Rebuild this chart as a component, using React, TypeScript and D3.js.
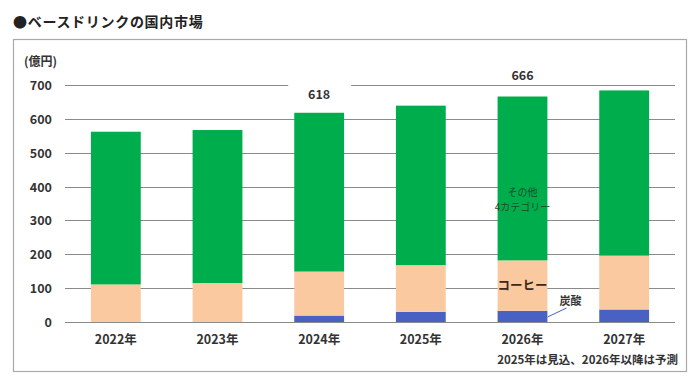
import React, { useEffect, useRef } from 'react';
import * as d3 from 'd3';

const years = ['2022年', '2023年', '2024年', '2025年', '2026年', '2027年'];
const carbonated = [0, 0, 19, 30, 33, 37];
const coffee = [111, 115, 130, 138, 149, 159];
const others = [451, 452, 469, 471, 484, 488];
const yTicks = [0, 100, 200, 300, 400, 500, 600, 700];
const totalLabels = [{ year: '2024年', text: '618' }, { year: '2026年', text: '666' }];

const FONT = '"Noto Sans CJK JP", "DejaVu Sans", sans-serif';

const App = () => {
    const svgRef = useRef(null);

    useEffect(() => {
        if (!svgRef.current) return;
        const root = d3.select(svgRef.current);
        root.selectAll('*').remove();

        const W = 700, H = 385;
        const plot = { left: 65, right: 675, top: 85, bottom: 322 };

        root.append('rect').attr('width', W).attr('height', H).attr('fill', '#fff');

        // title
        root.append('text')
            .attr('x', 13).attr('y', 27)
            .style('font-family', FONT).style('font-size', '14px').style('font-weight', 600)
            .style('letter-spacing', '0.7px')
            .style('fill', '#222')
            .text('●ベースドリンクの国内市場');

        // frame
        root.append('rect')
            .attr('x', 13.5).attr('y', 39.5).attr('width', 673).attr('height', 332)
            .attr('fill', 'none').attr('stroke', '#a9a9a9').attr('stroke-width', 1.2);

        const x = d3.scaleBand()
            .domain(years)
            .range([plot.left, plot.right])
            .paddingInner(0.51).paddingOuter(0.255);

        const y = d3.scaleLinear().domain([0, 700]).range([plot.bottom, plot.top]);

        // gridlines
        root.append('g').selectAll('line').data(yTicks).enter().append('line')
            .attr('x1', plot.left).attr('x2', plot.right)
            .attr('y1', d => Math.round(y(d)) + 0.5).attr('y2', d => Math.round(y(d)) + 0.5)
            .attr('stroke', '#8a8a8a').attr('stroke-width', 1.2);

        root.append('g').selectAll('text').data(yTicks).enter().append('text')
            .attr('x', 52).attr('y', d => y(d) + 5)
            .attr('text-anchor', 'end')
            .style('font-family', FONT).style('font-size', '12.5px').style('font-weight', 600)
            .style('fill', '#333')
            .text(d => d);

        root.append('text')
            .attr('x', 24).attr('y', 66)
            .style('font-family', FONT).style('font-size', '12px').style('font-weight', 600)
            .style('fill', '#333')
            .text('(億円)');

        // stacked bars
        const rows = years.map((yr, i) => ({ year: yr, carbonated: carbonated[i], coffee: coffee[i], others: others[i] }));
        const keys = ['carbonated', 'coffee', 'others'];
        const colors = { carbonated: '#4a61c4', coffee: '#fbc9a0', others: '#00ad4d' };
        const series = d3.stack().keys(keys)(rows);

        root.append('g').selectAll('g').data(series).enter().append('g')
            .attr('fill', d => colors[d.key])
            .selectAll('rect').data(d => d).enter().append('rect')
            .attr('x', d => x(d.data.year))
            .attr('width', x.bandwidth())
            .attr('y', d => y(d[1]))
            .attr('height', d => y(d[0]) - y(d[1]));

        // total labels with white boxes
        totalLabels.forEach((t, i) => {
            const cx = x(t.year) + x.bandwidth() / 2;
            const ty = i === 0 ? 99 : 80;
            root.append('rect')
                .attr('x', cx - 31).attr('y', ty - 16).attr('width', 63).attr('height', 20)
                .attr('fill', '#fff');
            root.append('text')
                .attr('x', cx).attr('y', ty)
                .attr('text-anchor', 'middle')
                .style('font-family', FONT).style('font-size', '12.5px').style('font-weight', 600)
                .style('fill', '#333')
                .text(t.text);
        });

        // x labels
        root.append('g').selectAll('text').data(years).enter().append('text')
            .attr('x', d => x(d) + x.bandwidth() / 2).attr('y', 344)
            .attr('text-anchor', 'middle')
            .style('font-family', FONT).style('font-size', '12.5px').style('font-weight', 600)
            .style('fill', '#333')
            .text(d => d);

        // segment labels on 2026
        const c26 = x('2026年') + x.bandwidth() / 2;
        root.append('text')
            .attr('x', c26).attr('y', 196).attr('text-anchor', 'middle')
            .style('font-family', FONT).style('font-size', '10px').style('fill', '#1a4d2a')
            .text('その他');
        root.append('text')
            .attr('x', c26).attr('y', 211).attr('text-anchor', 'middle')
            .style('font-family', FONT).style('font-size', '10px').style('fill', '#1a4d2a')
            .text('4カテゴリー');
        root.append('text')
            .attr('x', c26).attr('y', 290).attr('text-anchor', 'middle')
            .style('font-family', FONT).style('font-size', '12.5px').style('font-weight', 'bold')
            .style('fill', '#3a2a1a')
            .text('コーヒー');
        root.append('line')
            .attr('x1', c26 + 25).attr('y1', 317).attr('x2', c26 + 44).attr('y2', 308)
            .attr('stroke', '#4a61c4').attr('stroke-width', 1);
        root.append('text')
            .attr('x', c26 + 48).attr('y', 305).attr('text-anchor', 'middle')
            .style('font-family', FONT).style('font-size', '11px').style('font-weight', 600)
            .style('fill', '#333')
            .text('炭酸');

        // note
        root.append('text')
            .attr('x', 678).attr('y', 364).attr('text-anchor', 'end')
            .style('font-family', FONT).style('font-size', '11.5px').style('font-weight', 600)
            .style('fill', '#333')
            .text('2025年は見込、2026年以降は予測');
    }, []);

    return (
        <div style={{ position: 'absolute', left: 0, top: 0, width: 700, height: 385 }}>
            <svg ref={svgRef} width={700} height={385}></svg>
        </div>
    );
};

export default App;
